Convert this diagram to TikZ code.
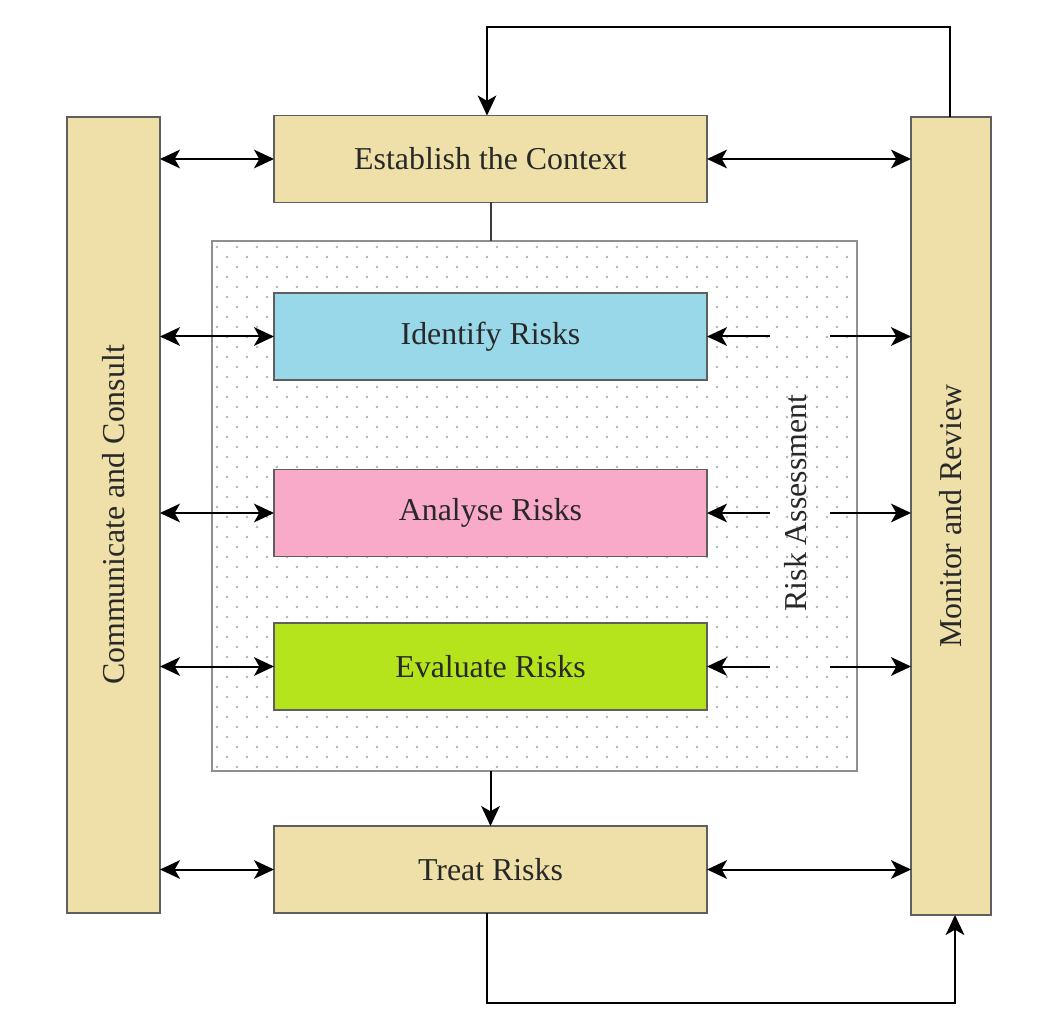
\documentclass[tikz,border=0pt]{standalone}
\usepackage{fontspec}
\usepackage{graphicx}
\setmainfont{Liberation Serif}
\usetikzlibrary{arrows.meta}
\definecolor{tan}{RGB}{238,224,168}
\definecolor{idblue}{RGB}{152,216,232}
\definecolor{anpink}{RGB}{249,170,200}
\definecolor{evgreen}{RGB}{181,228,28}
\definecolor{edge}{RGB}{95,95,95}
\definecolor{txt}{RGB}{40,40,40}
\definecolor{ln}{RGB}{60,60,60}
\begin{document}
\begin{tikzpicture}[x=0.75pt,y=-0.75pt,
  every node/.style={inner sep=0pt,outer sep=0pt,text=txt,font=\fontsize{23.9}{28}\selectfont},
  stepbox/.style={draw=edge,line width=1.3pt,minimum width=324.75pt,minimum height=65.25pt},
  sidebox/.style={draw=edge,line width=1.3pt,fill=tan},
  conn/.style={draw=ln,line width=1.5pt},
  tip/.tip={Stealth[length=15pt,width=14pt,inset=4pt]},
  arr/.style={conn,-tip,black},
  dbl/.style={conn,tip-tip,black}]
\useasboundingbox (0,0) rectangle (1045,1023);
\fill[white] (0,0) rectangle (1045,1023);

% Risk assessment dotted region
\node[draw=edge!70,line width=1pt,fill=white,minimum width=483.75pt,minimum height=397.5pt] (ras) at (534.5,506) {};
\begin{scope}
  \clip (213,242) rectangle (856,770);
  \foreach \r in {0,...,52}{
    \foreach \c in {0,...,31}{
      \fill[gray!60] ({217+20*\c+10*mod(\r,2)},{247+10*\r}) circle (1pt);
    }
  }
\end{scope}
\node[rotate=90] (ralabel) at (796,503) {Risk Assessment};

% side boxes
\node[sidebox,minimum width=69.75pt,minimum height=597pt] (cc) at (113.5,515) {\rotatebox{90}{Communicate and Consult}};
\node[sidebox,minimum width=60pt,minimum height=598.5pt] (mr) at (951,516) {\rotatebox{90}{Monitor and Review}};

% process boxes
\node[stepbox,fill=tan] (est) at (490.5,159) {Establish the Context};
\node[stepbox,fill=idblue] (idr) at (490.5,336.5) {Identify Risks};
\node[stepbox,fill=anpink] (anr) at (490.5,513) {Analyse Risks};
\node[stepbox,fill=evgreen] (evr) at (490.5,666.5) {Evaluate Risks};
\node[stepbox,fill=tan] (trr) at (490.5,869.5) {Treat Risks};

% left double arrows
\foreach \n in {est,idr,anr,evr,trr}{
  \draw[dbl] (cc.east |- \n.west) -- (\n.west);
}
% right double arrows
\draw[dbl] (est.east) -- (mr.west |- est.east);
\draw[dbl] (trr.east) -- (mr.west |- trr.east);

% split arrows across Risk Assessment label
\foreach \n in {idr,anr,evr}{
  \coordinate (\n l) at (770,0);
  \coordinate (\n r) at (830,0);
  \draw[arr] (\n l |- \n.east) -- (\n.east);
  \draw[arr] (\n r |- \n.east) -- (mr.west |- \n.east);
}

% vertical links
\draw[conn] (est.south) -- (est.south |- ras.north);
\draw[arr] (trr.north |- ras.south) -- (trr.north);

% feedback loops
\coordinate (ty) at (0,27);
\coordinate (by) at (0,1003);
\coordinate (mrt) at (950,0);
\coordinate (mrb) at (955,0);
\coordinate (lx) at (487,0);
\draw[arr] (mrt |- mr.north) -- (mrt |- ty) -- (lx |- ty) -- (lx |- est.north);
\draw[arr] (lx |- trr.south) -- (lx |- by) -- (mrb |- by) -- (mrb |- mr.south);
\end{tikzpicture}
\end{document}
